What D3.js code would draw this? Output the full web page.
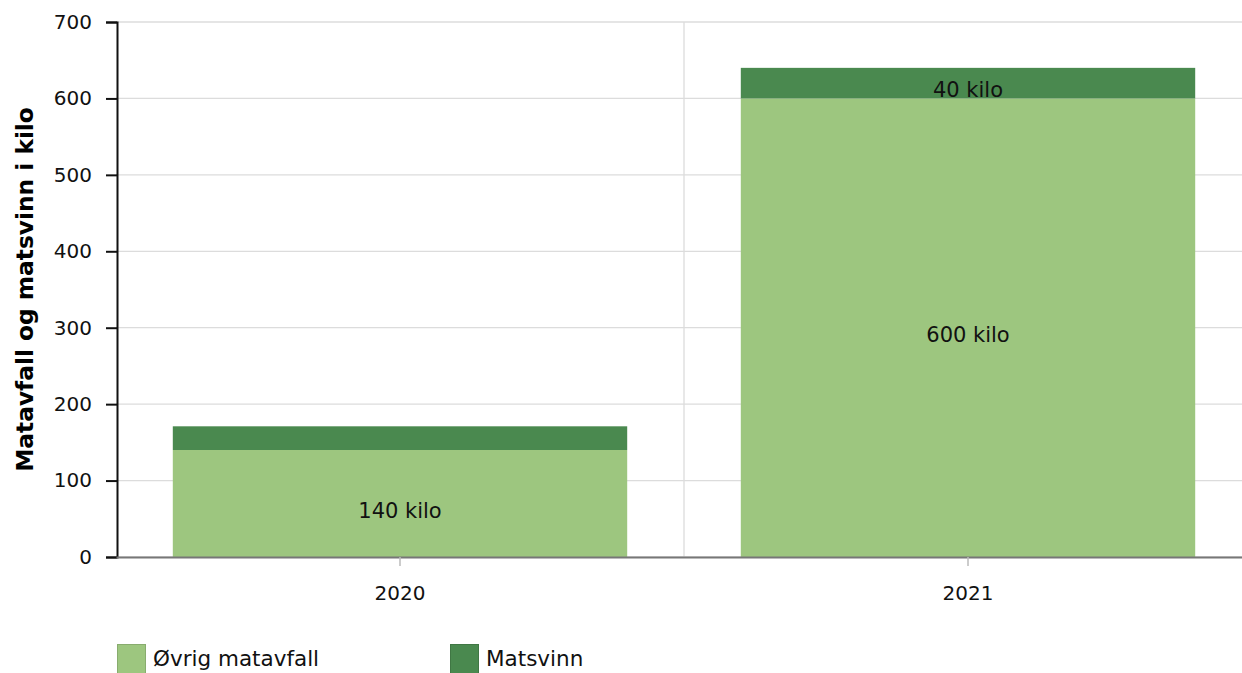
<!DOCTYPE html>
<html>
<head>
<meta charset="utf-8">
<script src="https://cdn.jsdelivr.net/npm/d3@7"></script>
<style>
  body { margin: 0; background: #fff; overflow: hidden; }
  svg { display: block; font-family: Verdana, "DejaVu Sans", sans-serif; }
</style>
</head>
<body>
<svg id="chart"></svg>
<script>
// chart data
let years = ['2020', '2021']
let ovrig = [140, 600]      // Øvrig matavfall
let matsvinn = [31, 40]     // Matsvinn
let seriesNames = ['Øvrig matavfall', 'Matsvinn']
let seriesColors = ['#9dc67f', '#4a894f']
let yTicks = [0, 100, 200, 300, 400, 500, 600, 700]

let width = 1242
let height = 673
let fontFam = 'Verdana, "DejaVu Sans", sans-serif'
// plot area runs a bit past the right edge, like the original
let plotLeft = 116
let plotRight = 1252
let plotTop = 22
let plotBottom = 557

let svg = d3.select('#chart').attr('width', width).attr('height', height)

let xScale = d3.scaleBand()
    .domain(years)
    .range([plotLeft, plotRight])
    .paddingInner(0.2)
    .paddingOuter(0.1)

let yScale = d3.scaleLinear()
    .domain([0, 700])
    .range([plotBottom, plotTop])

// stacked data
let rows = years.map((y, i) => ({ year: y, ovrig: ovrig[i], matsvinn: matsvinn[i] }))
let stack = d3.stack().keys(['ovrig', 'matsvinn'])(rows)

// horizontal gridlines
svg.append('g')
    .selectAll('line')
    .data(yTicks)
    .enter()
    .append('line')
    .attr('x1', plotLeft)
    .attr('x2', plotRight)
    .attr('y1', d => yScale(d))
    .attr('y2', d => yScale(d))
    .attr('stroke', '#dcdcdc')
    .attr('stroke-width', 1.3)

// vertical grid between the categories
let midX = (xScale(years[0]) + xScale.bandwidth() + xScale(years[1])) / 2
svg.append('line')
    .attr('x1', midX)
    .attr('x2', midX)
    .attr('y1', plotTop)
    .attr('y2', plotBottom)
    .attr('stroke', '#dcdcdc')
    .attr('stroke-width', 1.3)

// bars
let layers = svg.append('g')
    .selectAll('g')
    .data(stack)
    .enter()
    .append('g')
    .attr('fill', (d, i) => seriesColors[i])

layers.selectAll('rect')
    .data(d => d)
    .enter()
    .append('rect')
    .attr('x', d => xScale(d.data.year))
    .attr('width', xScale.bandwidth())
    .attr('y', d => yScale(d[1]))
    .attr('height', d => yScale(d[0]) - yScale(d[1]))

// value labels, only where the segment is tall enough
layers.selectAll('text')
    .data(d => d.map(s => ({ s: s, v: s[1] - s[0] })))
    .enter()
    .filter(d => yScale(d.s[0]) - yScale(d.s[1]) > 28)
    .append('text')
    .attr('x', d => xScale(d.s.data.year) + xScale.bandwidth() / 2)
    .attr('y', d => (yScale(d.s[0]) + yScale(d.s[1])) / 2 + 7)
    .attr('dy', '0.35em')
    .attr('text-anchor', 'middle')
    .attr('fill', '#111')
    .style('font-size', '21px')
    .text(d => d.v + ' kilo')

// y axis
let yAxis = d3.axisLeft(yScale).tickValues(yTicks).tickSize(11).tickPadding(14)
let gy = svg.append('g')
    .attr('transform', `translate(${plotLeft + 1}, 0)`)
    .call(yAxis)
gy.select('.domain').attr('stroke', '#111').attr('stroke-width', 2)
gy.selectAll('.tick line').attr('stroke', '#111').attr('stroke-width', 2)
gy.selectAll('.tick text').style('font-size', '20px').attr('fill', '#111')
    .style('font-family', fontFam)

// x axis
let xAxis = d3.axisBottom(xScale).tickSize(9).tickPadding(20).tickSizeOuter(0)
let gx = svg.append('g')
    .attr('transform', `translate(0, ${yScale(0)})`)
    .call(xAxis)
gx.select('.domain').attr('stroke', '#777').attr('stroke-width', 2)
gx.selectAll('.tick line').attr('stroke', '#bbb').attr('stroke-width', 1.5)
gx.selectAll('.tick text').style('font-size', '20px').attr('fill', '#111')
    .style('font-family', fontFam)

// y axis title
svg.append('text')
    .attr('transform', `translate(33, ${(plotTop + plotBottom) / 2}) rotate(-90)`)
    .attr('text-anchor', 'middle')
    .style('font-size', '23.3px')
    .style('font-weight', 'bold')
    .attr('fill', '#000')
    .text('Matavfall og matsvinn i kilo')

// legend
let legendX = [117, 450]
let legend = svg.append('g')
    .selectAll('g')
    .data(seriesNames)
    .enter()
    .append('g')
    .attr('transform', (d, i) => `translate(${legendX[i]}, 644)`)

legend.append('rect')
    .attr('x', 0.5)
    .attr('y', 0.5)
    .attr('width', 28)
    .attr('height', 30)
    .attr('fill', (d, i) => seriesColors[i])
    .attr('stroke', (d, i) => d3.color(seriesColors[i]).darker(0.4))
    .attr('stroke-width', 1)

legend.append('text')
    .attr('x', 36)
    .attr('y', 22)
    .style('font-size', '21.5px')
    .attr('fill', '#111')
    .text(d => d)
</script>
</body>
</html>
